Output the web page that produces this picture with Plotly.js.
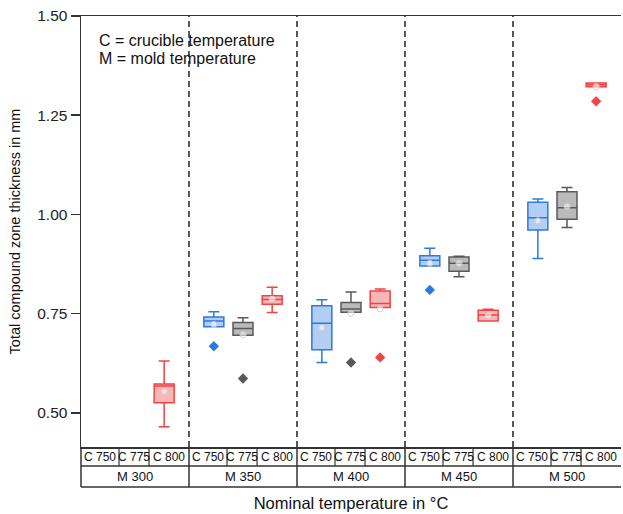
<!DOCTYPE html>
<html>
<head>
<meta charset="utf-8">
<script src="https://cdn.plot.ly/plotly-3.0.1.min.js"></script>
<style>html,body{margin:0;padding:0;background:#fff;}#chart{width:623px;height:514px;}</style>
</head>
<body>
<div id="chart"></div>
<script>
// ---- data ----
const groups = ['M 300', 'M 350', 'M 400', 'M 450', 'M 500'];
const crucibles = ['C 750', 'C 775', 'C 800'];

const c750Lower  = [null, 0.717, 0.627, 0.870, 0.889];
const c750Q1     = [null, 0.717, 0.659, 0.870, 0.961];
const c750Median = [null, 0.732, 0.726, 0.885, 0.992];
const c750Q3     = [null, 0.742, 0.770, 0.896, 1.031];
const c750Upper  = [null, 0.755, 0.785, 0.915, 1.039];
const c750Mean   = [null, 0.723, 0.715, 0.877, 0.984];
const c750Outlier= [null, 0.668, null, 0.810, null];

const c775Lower  = [null, 0.696, 0.754, 0.843, 0.967];
const c775Q1     = [null, 0.696, 0.754, 0.857, 0.988];
const c775Median = [null, 0.713, 0.762, 0.877, 1.017];
const c775Q3     = [null, 0.728, 0.778, 0.893, 1.057];
const c775Upper  = [null, 0.740, 0.805, 0.895, 1.068];
const c775Mean   = [null, 0.697, 0.751, 0.877, 1.020];
const c775Outlier= [null, 0.587, 0.627, null, null];

const c800Lower  = [0.465, 0.753, 0.766, 0.732, 1.322];
const c800Q1     = [0.526, 0.774, 0.766, 0.732, 1.322];
const c800Median = [0.568, 0.786, 0.776, 0.747, 1.327];
const c800Q3     = [0.573, 0.795, 0.807, 0.759, 1.331];
const c800Upper  = [0.631, 0.817, 0.812, 0.761, 1.331];
const c800Mean   = [0.554, 0.787, 0.762, 0.745, 1.322];
const c800Outlier= [null, null, 0.640, null, 1.285];

const yTicks = [0.50, 0.75, 1.00, 1.25, 1.50];
const titleText = 'Total compound zone thickness in mm';
const xTitleText = 'Nominal temperature in °C';
const noteLines = ['C = crucible temperature', 'M = mold temperature'];

// ---- styling ----
const lineColors = ['#2a7ae2', '#595959', '#ee4444'];
const fillColors = ['#b3cdf3', '#bababa', '#f8b6b6'];
const boxOffsets = [-0.27, 0, 0.27];
const cellEdges = [-0.5, -0.148, 0.13, 0.5];

const seriesData = [
  [c750Lower, c750Q1, c750Median, c750Q3, c750Upper, c750Mean, c750Outlier],
  [c775Lower, c775Q1, c775Median, c775Q3, c775Upper, c775Mean, c775Outlier],
  [c800Lower, c800Q1, c800Median, c800Q3, c800Upper, c800Mean, c800Outlier]
];

const traces = [];
seriesData.forEach((s, ci) => {
  const [lo, q1, med, q3, up, mean, out] = s;
  const idx = groups.map((g, i) => i).filter(i => q1[i] !== null);
  const xs = idx.map(i => i + boxOffsets[ci]);
  traces.push({
    type: 'box', name: crucibles[ci], x: xs,
    lowerfence: idx.map(i => lo[i]), q1: idx.map(i => q1[i]), median: idx.map(i => med[i]),
    q3: idx.map(i => q3[i]), upperfence: idx.map(i => up[i]),
    width: 0.185, whiskerwidth: 0.55, boxpoints: false,
    line: {color: lineColors[ci], width: 1.5}, fillcolor: fillColors[ci],
    showlegend: false, hoverinfo: 'skip'
  });
  traces.push({
    type: 'scatter', mode: 'markers', x: xs, y: idx.map(i => mean[i]),
    marker: {symbol: 'circle', size: 6, color: 'rgba(255,255,255,0.55)', line: {color: 'rgba(205,205,205,0.9)', width: 1}},
    showlegend: false, hoverinfo: 'skip'
  });
  const oi = groups.map((g, i) => i).filter(i => out[i] !== null);
  traces.push({
    type: 'scatter', mode: 'markers', x: oi.map(i => i + boxOffsets[ci]), y: oi.map(i => out[i]),
    marker: {symbol: 'diamond', size: 8, color: lineColors[ci]},
    showlegend: false, hoverinfo: 'skip'
  });
});

const xr = [-0.5, groups.length - 0.5];
const px = v => (v - xr[0]) / (xr[1] - xr[0]);
const plotH = 514 - 16 - 67;
const rowA = -19 / plotH;
const rowB = -40 / plotH;
const lc = '#333';

const shapes = [];
const annotations = [];
for (let g = 0; g < groups.length; g++) {
  if (g > 0) {
    shapes.push({type: 'line', xref: 'paper', yref: 'paper', x0: px(g - 0.5), x1: px(g - 0.5), y0: 0, y1: 1,
      line: {color: '#222', width: 1.5, dash: '6px,4px'}});
    shapes.push({type: 'line', xref: 'paper', yref: 'paper', x0: px(g - 0.5), x1: px(g - 0.5), y0: 0, y1: rowB,
      line: {color: lc, width: 1.5}});
  }
  for (let k = 1; k < 3; k++) {
    shapes.push({type: 'line', xref: 'paper', yref: 'paper', x0: px(g + cellEdges[k]), x1: px(g + cellEdges[k]), y0: 0, y1: rowA,
      line: {color: lc, width: 1.2}});
  }
  crucibles.forEach((c, k) => {
    const narrow = k === 1;
    annotations.push({xref: 'paper', yref: 'paper', x: px(g + (cellEdges[k] + cellEdges[k + 1]) / 2), y: rowA / 2,
      text: c, showarrow: false, xanchor: 'center', yanchor: 'middle',
      font: {family: narrow ? 'Liberation Sans Narrow, Arial Narrow, Liberation Sans' : 'Liberation Sans, Arial', size: 12, color: '#111'}});
  });
  annotations.push({xref: 'paper', yref: 'paper', x: px(g), y: (rowA + rowB) / 2,
    text: groups[g], showarrow: false, xanchor: 'center', yanchor: 'middle',
    font: {family: 'Liberation Sans, Arial', size: 13, color: '#111'}});
}
shapes.push({type: 'line', xref: 'paper', yref: 'paper', x0: 0, x1: 1, y0: rowA, y1: rowA, line: {color: lc, width: 1.5}});
shapes.push({type: 'line', xref: 'paper', yref: 'paper', x0: 0, x1: 1, y0: rowB, y1: rowB, line: {color: lc, width: 1.5}});
shapes.push({type: 'line', xref: 'paper', yref: 'paper', x0: 0, x1: 0, y0: 0, y1: rowB, line: {color: lc, width: 1.5}});

const noteY = [40, 58];
noteLines.forEach((t, i) => {
  annotations.push({xref: 'paper', yref: 'paper', x: 16 / 540, y: (447 - noteY[i]) / plotH,
    text: t, showarrow: false, xanchor: 'left', yanchor: 'middle', align: 'left',
    font: {family: 'Liberation Sans, Arial', size: 16, color: '#111'}});
});

const layout = {
  width: 623, height: 514,
  margin: {l: 81, r: 2, t: 16, b: 67},
  paper_bgcolor: '#fff', plot_bgcolor: '#fff',
  font: {family: 'Liberation Sans, Arial', size: 14, color: '#111'},
  xaxis: {range: xr, showticklabels: false, ticks: '', showgrid: false, zeroline: false,
    showline: true, mirror: true, linecolor: lc, linewidth: 1.5, fixedrange: true,
    title: {text: xTitleText, font: {size: 16.5, color: '#111'}, standoff: 50}},
  yaxis: {range: [0.4143, 1.5], tickvals: yTicks, tickformat: '.2f', ticks: 'outside', ticklen: 9,
    tickwidth: 1.5, tickcolor: lc, showline: true, linecolor: lc, linewidth: 1.5,
    showgrid: false, zeroline: false, tickfont: {size: 15.5, color: '#222'},
    title: {text: titleText, font: {size: 14.5, color: '#111'}, standoff: 13}},
  shapes: shapes,
  annotations: annotations,
  showlegend: false
};

Plotly.newPlot('chart', traces, layout, {staticPlot: true});
</script>
</body>
</html>
